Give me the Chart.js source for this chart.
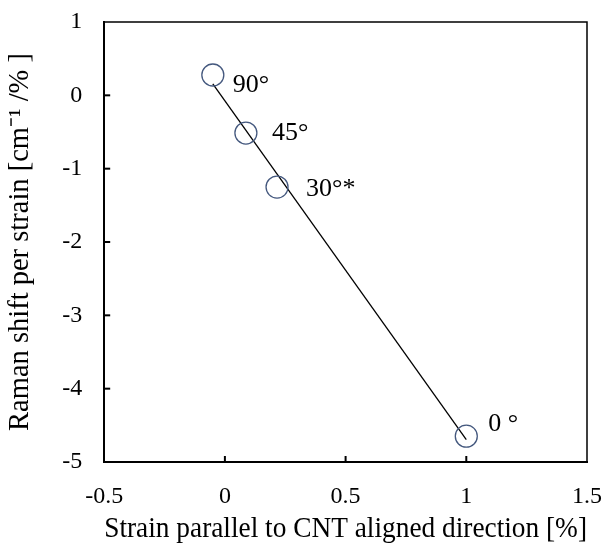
<!DOCTYPE html>
<html>
<head>
<meta charset="utf-8">
<script src="https://cdn.jsdelivr.net/npm/chart.js@4/dist/chart.umd.min.js"></script>
<style>
html,body{margin:0;padding:0;background:#fff;}
#wrap{width:605px;height:549px;}
</style>
</head>
<body>
<div id="wrap"><canvas id="c" width="605" height="549"></canvas></div>
<script>
const xValues = [-0.05, 0.087, 0.216, 1.0];
const yValues = [0.277, -0.514, -1.251, -4.648];
const pointLabels = ['90°', '45°', '30°*', '0 °'];
const trendX = [-0.05, 1.0];
const trendY = [0.155, -4.696];
const xTicks = [-0.5, 0, 0.5, 1, 1.5];
const yTicks = [1, 0, -1, -2, -3, -4, -5];
const xTitle = 'Strain parallel to CNT aligned direction [%]';
const yTitle = 'Raman shift per strain [cm⁻¹ /% ]';

const FONT = "'Liberation Serif', 'Times New Roman', serif";
const labelOffsets = [[20, 10], [26, 0], [29, 2], [22, -12]];

const framePlugin = {
  id: 'frame',
  afterDatasetsDraw(chart) {
    const {ctx, chartArea: a, scales} = chart;
    ctx.save();
    ctx.strokeStyle = '#000';
    ctx.lineWidth = 2;
    xTicks.forEach(v => {
      if (v === xTicks[0] || v === xTicks[xTicks.length-1]) return;
      const px = scales.x.getPixelForValue(v);
      ctx.beginPath(); ctx.moveTo(px, a.bottom); ctx.lineTo(px, a.bottom - 6); ctx.stroke();
    });
    yTicks.forEach(v => {
      if (v === yTicks[0] || v === yTicks[yTicks.length-1]) return;
      const py = scales.y.getPixelForValue(v);
      ctx.beginPath(); ctx.moveTo(a.left, py); ctx.lineTo(a.left + 6, py); ctx.stroke();
    });
    ctx.lineWidth = 1.5;
    ctx.beginPath();
    ctx.moveTo(a.left, a.top); ctx.lineTo(a.right, a.top); ctx.lineTo(a.right, a.bottom);
    ctx.stroke();
    ctx.fillStyle = '#000';
    ctx.font = '26px ' + FONT;
    ctx.textBaseline = 'middle';
    ctx.textAlign = 'left';
    xValues.forEach((x, i) => {
      const px = scales.x.getPixelForValue(x);
      const py = scales.y.getPixelForValue(yValues[i]);
      ctx.fillText(pointLabels[i], px + labelOffsets[i][0], py + labelOffsets[i][1]);
    });
    ctx.restore();
  }
};

new Chart(document.getElementById('c'), {
  type: 'scatter',
  data: {
    datasets: [
      {
        type: 'line',
        data: trendX.map((x, i) => ({x, y: trendY[i]})),
        borderColor: '#000',
        borderWidth: 1.3,
        pointRadius: 0,
        fill: false,
        order: 2
      },
      {
        data: xValues.map((x, i) => ({x, y: yValues[i]})),
        pointRadius: 11,
        pointBorderColor: '#44587E',
        pointBackgroundColor: 'rgba(0,0,0,0)',
        pointBorderWidth: 1.3,
        order: 1
      }
    ]
  },
  options: {
    responsive: false,
    animation: false,
    devicePixelRatio: 1,
    layout: {padding: {top: 22, right: 18, bottom: 3, left: 3}},
    plugins: {legend: {display: false}, tooltip: {enabled: false}},
    scales: {
      x: {
        type: 'linear', min: -0.5, max: 1.5,
        afterBuildTicks: s => { s.ticks = xTicks.map(v => ({value: v})); },
        afterFit: s => { s.paddingLeft = 0; s.paddingRight = 0; },
        ticks: {font: {family: FONT, size: 24}, color: '#000', padding: 20,
          callback: v => String(v), maxRotation: 0},
        grid: {drawOnChartArea: false, drawTicks: false},
        border: {display: true, color: '#000', width: 2},
        title: {display: true, text: xTitle, color: '#000', font: {family: FONT, size: 30, lineHeight: 1.1}, padding: {top: -17.8, bottom: 0}}
      },
      y: {
        type: 'linear', min: -5, max: 1,
        afterBuildTicks: s => { s.ticks = yTicks.map(v => ({value: v})); },
        afterFit: s => { s.paddingTop = 0; s.paddingBottom = 0; },
        ticks: {font: {family: FONT, size: 24}, color: '#000', padding: 22,
          callback: v => String(v)},
        grid: {drawOnChartArea: false, drawTicks: false},
        border: {display: true, color: '#000', width: 2},
        title: {display: true, text: yTitle, color: '#000', font: {family: FONT, size: 28.5}, padding: {top: 0, bottom: 3}}
      }
    }
  },
  plugins: [framePlugin]
});
</script>
</body>
</html>
